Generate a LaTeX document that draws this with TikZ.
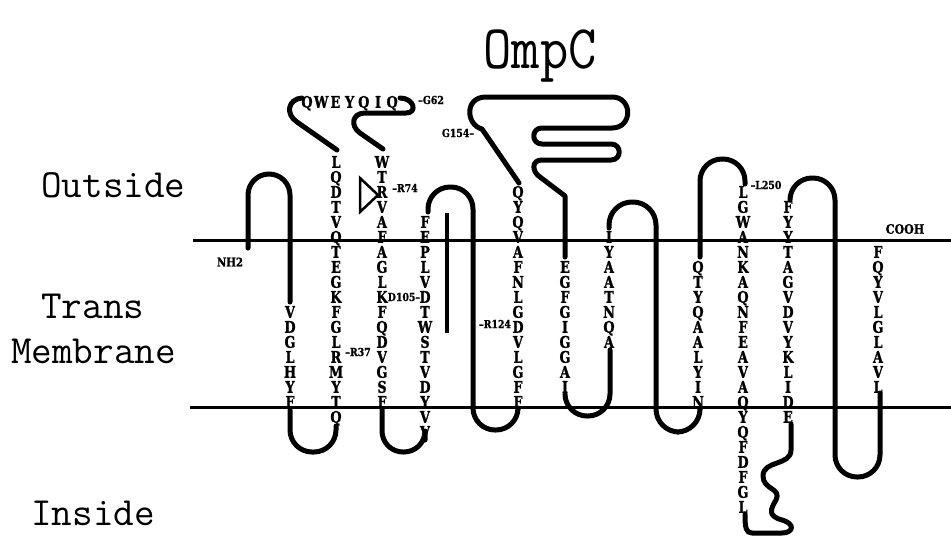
\documentclass[tikz,border=0pt]{standalone}
\usepackage{fontspec}
\newfontfamily\aafont[FakeStretch=0.8,FakeBold=1.2]{DejaVu Serif}
\newfontfamily\labfont[FakeStretch=0.85,FakeBold=1]{DejaVu Serif}
\newcommand\aacol[4]{%
  \foreach \L [count=\i from 0] in {#4} {
    \node[aa] (#1-\i) at (#2, {#3+15*\i}) {\L};
  }}
\begin{document}
\begin{tikzpicture}[x=1pt,y=-1pt,
  aa/.style={font=\aafont\bfseries\fontsize{16}{16}\selectfont, inner sep=0pt, text height=11.5pt, text depth=0pt, anchor=center},
  lab/.style={font=\labfont\bfseries\fontsize{11}{11}\selectfont, inner sep=0pt},
  side/.style={font=\ttfamily\fontsize{40}{40}\selectfont, inner sep=0pt, anchor=base west},
  strand/.style={line width=5pt, line cap=round, line join=round},
  memb/.style={line width=3pt}]
\useasboundingbox (0,0) rectangle (951,538);
% membrane
\draw[memb] (193,240) -- (951,240);
\draw[memb] (190,407) -- (951,407);
% title and side labels
\node[font=\ttfamily\fontsize{55}{55}\selectfont, inner sep=0pt, anchor=base] (title) at (540,68) {\scalebox{1}[1.13]{OmpC}};
\node[side] (out) at (41,197) {Outside};
\node[side] (trans) at (41,318) {Trans};
\node[side] (memlab) at (11,363) {Membrane};
\node[side] (ins) at (31,525) {Inside};
% strands
\draw[strand, rounded corners=21pt] (248,248) -- (248,174) -- (290,174) -- (290,302);
\draw[strand, rounded corners=22pt] (290,410) -- (290,452) -- (336,452) -- (336,426);
\draw[strand] (337,150) -- (297,122) .. controls (285,114) and (288,99) .. (302,98);
\draw[strand] (400,98) .. controls (414,98) and (418,113) .. (406,113) -- (365,113) .. controls (352,113) and (350,126) .. (360,133) -- (383,149);
\draw[strand, rounded corners=21pt] (382,409) -- (382,452) -- (425,452) -- (425,440);
\draw[strand, rounded corners=22pt] (428,212) -- (428,187) -- (473,187) -- (473,430) -- (518,430) -- (518,410);
\draw[line width=4pt] (447,213) -- (447,333);
\draw[strand] (519,183) -- (482,129) .. controls (466,125) and (464,97) .. (486,97) -- (612,97)
  .. controls (633,97) and (633,128) .. (612,128) -- (542,128)
  .. controls (531,128) and (531,144) .. (542,144) -- (611,144)
  .. controls (622,144) and (622,160) .. (611,160) -- (542,160)
  .. controls (531,160) and (532,172) .. (540,177) -- (565,196) -- (565,257);
\draw[strand, rounded corners=22pt] (565,394) -- (565,416) -- (610,416) -- (610,350);
\draw[strand, rounded corners=23pt] (609,228) -- (609,202) -- (656,202) -- (656,432) -- (700,432) -- (700,410);
\draw[strand, rounded corners=22pt] (700,257) -- (700,159) -- (745,159) -- (745,184);
\draw[strand, rounded corners=22pt] (790,200) -- (790,178) -- (835,178) -- (835,477) -- (880,477) -- (880,393);
\draw[strand] (791,424) -- (791,450) .. controls (791,466) and (763,460) .. (763,476)
  .. controls (763,490) and (782,488) .. (776,500) .. controls (770,510) and (768,516) .. (782,520)
  .. controls (796,524) and (793,533) .. (782,533) -- (752,533) .. controls (746,533) and (745,528) .. (745,514);
% triangle marker
\draw[line width=2.5pt, line join=miter] (360,178) -- (378,195) -- (360,212) -- cycle;
% residues
\foreach \L [count=\i from 0] in {Q,W,E,Y,Q,I,Q} {
  \node[aa] (t-\i) at ({307+14.2*\i},102) {\L};
}
\aacol{c1}{290}{312}{V,D,G,L,H,Y,F}
\aacol{c2}{336}{162}{L,Q,D,T,V,Q,T,E,G,K,F,G,L,R,M,Y,T,Q}
\aacol{c3}{382}{162}{W,T,R,V,A,F,A,G,L,K,F,Q,D,V,G,S,F}
\aacol{c4}{425}{222}{F,E,P,L,V,D,T,W,S,T,V,D,Y,V,V}
\aacol{c5}{518}{192}{Q,Y,Q,V,A,F,N,L,G,D,V,L,G,F,F}
\aacol{c6}{565}{267}{E,G,F,G,I,G,G,A,I}
\aacol{c7}{609}{237}{I,Y,A,A,T,N,Q,A}
\aacol{c8}{698}{267}{Q,T,Y,Q,A,A,L,Y,I,N}
\aacol{c9}{743}{192}{L,G,W,A,N,K,A,Q,N,F,E,A,V,A,Q,Y,Q,F,D,F,G,L}
\aacol{c10}{788}{207}{F,Y,Y,T,A,G,V,D,V,Y,K,L,I,D,E}
\aacol{c11}{878}{252}{F,Q,Y,V,L,G,L,A,V,L}
% labels
\node[lab] (g62) at (431,100) {–G62};
\node[lab] (r74) at (405,188) {–R74};
\node[lab] (d105) at (404,297) {D105–};
\node[lab] (r37) at (358,352) {–R37};
\node[lab] (r124) at (495,324) {–R124};
\node[lab] (l250) at (766,185) {–L250};
\node[lab] (g154) at (458,133) {G154–};
\node[lab, font=\labfont\bfseries\fontsize{12}{12}\selectfont] (nh2) at (230,262) {NH2};
\node[lab, font=\labfont\bfseries\fontsize{13}{13}\selectfont] (cooh) at (905,229) {COOH};
\end{tikzpicture}
\end{document}
